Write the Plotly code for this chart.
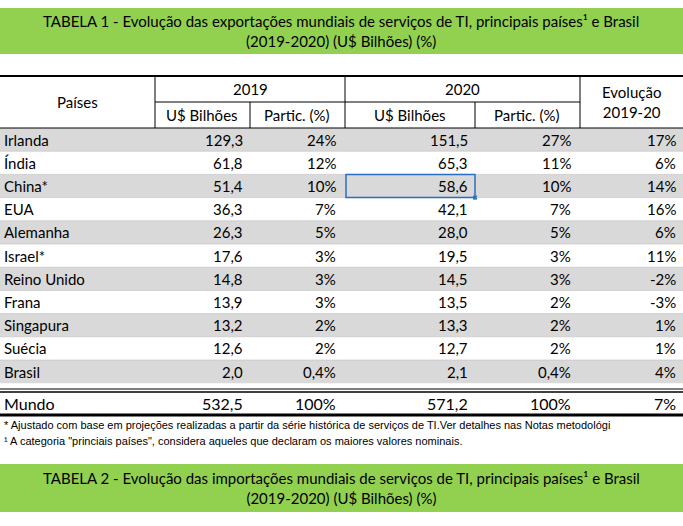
import plotly.graph_objects as go

paises = ["Irlanda", "Índia", "China*", "EUA", "Alemanha", "Israel*", "Reino Unido",
          "Frana", "Singapura", "Suécia", "Brasil", "Mundo"]
bi_2019 = ["129,3", "61,8", "51,4", "36,3", "26,3", "17,6", "14,8", "13,9", "13,2", "12,6", "2,0", "532,5"]
part_2019 = ["24%", "12%", "10%", "7%", "5%", "3%", "3%", "3%", "2%", "2%", "0,4%", "100%"]
bi_2020 = ["151,5", "65,3", "58,6", "42,1", "28,0", "19,5", "14,5", "13,5", "13,3", "12,7", "2,1", "571,2"]
part_2020 = ["27%", "11%", "10%", "7%", "5%", "3%", "3%", "2%", "2%", "2%", "0,4%", "100%"]
evolucao = ["17%", "6%", "14%", "16%", "6%", "11%", "-2%", "-3%", "1%", "1%", "4%", "7%"]

titulo1 = "TABELA 1 - Evolução das exportações mundiais de serviços de TI, principais países¹ e Brasil<br>(2019-2020) (U$ Bilhões) (%)"
titulo2 = "TABELA 2 - Evolução das importações mundiais de serviços de TI, principais países¹ e Brasil<br>(2019-2020) (U$ Bilhões) (%)"
nota1 = "* Ajustado com base em projeções realizadas a partir da série histórica de serviços de TI.Ver detalhes nas Notas metodológi"
nota2 = "¹ A categoria \"princiais países\", considera aqueles que declaram os maiores valores nominais."

FONT = "Lato"
GREEN = "#92D050"
GRAY = "#D9D9D9"
row_top = 128
row_h = 23.2

shapes = []
ann = []

def rect(x0, y0, x1, y1, fill, line=None, w=0):
    shapes.append(dict(type="rect", x0=x0, y0=y0, x1=x1, y1=y1, fillcolor=fill,
                       line=dict(color=line or fill, width=w), layer="below"))

def hline(y, x0=0, x1=683, w=1, c="black"):
    shapes.append(dict(type="line", x0=x0, x1=x1, y0=y, y1=y, line=dict(color=c, width=w)))

def vline(x, y0, y1, w=1, c="black"):
    shapes.append(dict(type="line", x0=x, x1=x, y0=y0, y1=y1, line=dict(color=c, width=w)))

def text(x, y, s, anchor="center", size=15, family=FONT):
    ann.append(dict(x=x, y=y, text=s, showarrow=False, xanchor=anchor, yanchor="middle",
                    font=dict(family=family, size=size, color="black"), align="center"))

# banners
rect(0, 8, 683, 54, GREEN)
text(341, 31, titulo1, size=15)
rect(0, 464, 683, 512, GREEN)
text(341, 488, titulo2, size=15)

# header
hline(76, w=2)
vline(155, 76, 128); vline(345, 76, 128); vline(580, 76, 128)
vline(250, 102, 128); vline(475, 102, 128)
hline(102, 155, 580)
hline(128)
text(77, 102, "Países")
text(250, 89, "2019"); text(462, 89, "2020")
text(631, 102, "Evolução<br>2019-20")
text(202, 115, "U$ Bilhões"); text(297, 115, "Partic. (%)")
text(410, 115, "U$ Bilhões"); text(527, 115, "Partic. (%)")

# data rows
rights = [245, 338, 470, 573, 678]
for i, p in enumerate(paises):
    if i < 11:
        y0 = row_top + i * row_h
        y1 = y0 + row_h
    else:
        y0, y1 = 392, 415
    if i % 2 == 0 and i < 11:
        rect(0, y0, 683, y1, GRAY)
    yc = (y0 + y1) / 2
    size = 16 if i == 11 else 15
    text(2, yc, p, anchor="left", size=size)
    for x, v in zip(rights, [bi_2019[i], part_2019[i], bi_2020[i], part_2020[i], evolucao[i]]):
        text(x, yc, v, anchor="right", size=size)
    if i < 10:
        hline(y1, w=0.6, c="#bfbfbf")

hline(389, w=1); hline(392, w=1.5)
hline(415, w=3)

# selected cell
china_y = row_top + 2 * row_h
shapes.append(dict(type="rect", x0=346, x1=475, y0=china_y, y1=china_y + row_h,
                   line=dict(color="#2B6FC2", width=1.5)))
rect(473, china_y + row_h - 2, 477, china_y + row_h + 2, "#2B6FC2")

# notes
text(2, 425, nota1, anchor="left", size=11, family="Liberation Sans Narrow, Liberation Sans")
text(2, 441, nota2, anchor="left", size=11, family="Liberation Sans Narrow, Liberation Sans")

fig = go.Figure()
fig.update_layout(autosize=True, margin=dict(l=0, r=0, t=0, b=0),
                  plot_bgcolor="white", paper_bgcolor="white",
                  xaxis=dict(range=[0, 683], visible=False, fixedrange=True),
                  yaxis=dict(range=[526, 0], visible=False, fixedrange=True),
                  shapes=shapes, annotations=ann, showlegend=False)
fig.write_html("out.html", default_width="100vw", default_height="100vh",
               config={"displayModeBar": False},
               post_script="document.body.style.margin='0';document.body.style.overflow='hidden';")
